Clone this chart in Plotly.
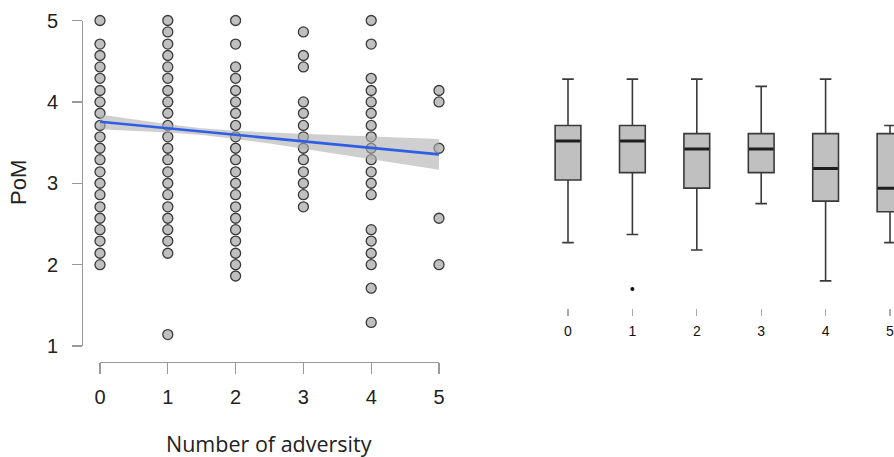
import plotly.graph_objects as go

# ---------------- data ----------------
adversity_levels = [0, 1, 2, 3, 4, 5]
pom_0 = [5.00, 4.71, 4.57, 4.43, 4.29, 4.14, 4.00, 3.86, 3.71, 3.57, 3.43, 3.29, 3.14, 3.00,
         2.86, 2.71, 2.57, 2.43, 2.29, 2.14, 2.00]
pom_1 = [5.00, 4.86, 4.71, 4.57, 4.43, 4.29, 4.14, 4.00, 3.86, 3.71, 3.57, 3.43, 3.29, 3.14,
         3.00, 2.86, 2.71, 2.57, 2.43, 2.29, 2.14, 1.14]
pom_2 = [5.00, 4.71, 4.43, 4.29, 4.14, 4.00, 3.86, 3.71, 3.57, 3.43, 3.29, 3.14, 3.00, 2.86,
         2.71, 2.57, 2.43, 2.29, 2.14, 2.00, 1.86]
pom_3 = [4.86, 4.57, 4.43, 4.00, 3.86, 3.71, 3.57, 3.43, 3.29, 3.14, 3.00, 2.86, 2.71]
pom_4 = [5.00, 4.71, 4.29, 4.14, 4.00, 3.86, 3.71, 3.57, 3.43, 3.29, 3.14, 3.00, 2.86, 2.43,
         2.29, 2.14, 2.00, 1.71, 1.29]
pom_5 = [4.14, 4.00, 3.43, 2.57, 2.00]

# fitted regression line and 95% CI band
fit_x = [0, 0.5, 1, 1.5, 2, 2.5, 3, 3.5, 4, 4.5, 5]
fit_y = [3.755, 3.715, 3.675, 3.635, 3.595, 3.555, 3.515, 3.475, 3.435, 3.395, 3.355]
fit_upper = [3.845, 3.783, 3.725, 3.677, 3.645, 3.623, 3.605, 3.589, 3.574, 3.559, 3.545]
fit_lower = [3.665, 3.647, 3.625, 3.593, 3.545, 3.487, 3.425, 3.361, 3.296, 3.231, 3.165]

# boxplot statistics (right panel)
box_upper = [4.28, 4.28, 4.28, 4.19, 4.28, 3.71]
box_q3 = [3.71, 3.71, 3.61, 3.61, 3.61, 3.61]
box_median = [3.52, 3.52, 3.42, 3.42, 3.18, 2.94]
box_q1 = [3.04, 3.13, 2.94, 3.13, 2.78, 2.65]
box_lower = [2.27, 2.37, 2.18, 2.75, 1.80, 2.27]
outlier_x = [1]
outlier_y = [1.70]

x_tick_labels = ["0", "1", "2", "3", "4", "5"]
y_ticks = [1, 2, 3, 4, 5]

# ---------------- figure ----------------
W, H = 894, 457
OFF = 0  # body margin removed by post_script


def fx(px):
    return (px - OFF) / W


def fy(py):
    return 1 - (py - OFF) / H


fig = go.Figure()

groups = [pom_0, pom_1, pom_2, pom_3, pom_4, pom_5]
sx, sy = [], []
for lvl, vals in zip(adversity_levels, groups):
    sx += [lvl] * len(vals)
    sy += vals

fig.add_trace(go.Scatter(
    x=sx, y=sy, mode="markers", xaxis="x", yaxis="y",
    marker=dict(size=10, color="#c0c0c0", line=dict(color="#3a3a3a", width=1.3)),
    cliponaxis=False, showlegend=False, hoverinfo="skip"))

fig.add_trace(go.Scatter(
    x=fit_x, y=fit_lower, mode="lines", line=dict(width=0), xaxis="x", yaxis="y",
    showlegend=False, hoverinfo="skip"))
fig.add_trace(go.Scatter(
    x=fit_x, y=fit_upper, mode="lines", line=dict(width=0), fill="tonexty",
    fillcolor="rgba(175,175,175,0.6)", xaxis="x", yaxis="y",
    showlegend=False, hoverinfo="skip"))
fig.add_trace(go.Scatter(
    x=fit_x, y=fit_y, mode="lines", line=dict(color="#2f5ee6", width=2.6),
    xaxis="x", yaxis="y", showlegend=False, hoverinfo="skip"))

# right panel boxes
for i, lvl in enumerate(adversity_levels):
    fig.add_trace(go.Box(
        x=[lvl], q1=[box_q1[i]], median=[box_median[i]], q3=[box_q3[i]],
        lowerfence=[box_lower[i]], upperfence=[box_upper[i]],
        width=0.4, whiskerwidth=0.45, fillcolor="#c0c0c0",
        line=dict(color="#3a3a3a", width=1.6), xaxis="x2", yaxis="y2",
        boxpoints=False, showlegend=False, hoverinfo="skip"))
    fig.add_trace(go.Scatter(
        x=[lvl - 0.19, lvl + 0.19], y=[box_median[i], box_median[i]], mode="lines",
        line=dict(color="#1e1e1e", width=3), xaxis="x2", yaxis="y2",
        showlegend=False, hoverinfo="skip"))

fig.add_trace(go.Scatter(
    x=outlier_x, y=outlier_y, mode="markers", marker=dict(size=4, color="#111"),
    xaxis="x2", yaxis="y2", showlegend=False, hoverinfo="skip"))

tick_font = dict(family="Liberation Sans, Arial, sans-serif", size=20, color="#222")

# right panel: 0 -> px 568, 5 -> px 890 (64.4 px per unit), clipped at window edge
r_left_px = 568 - 0.5 * 64.4
r_right_px = OFF + W
r_hi = 5 + (r_right_px - 890) / 64.4

fig.update_layout(
    width=W, height=H, margin=dict(l=0, r=0, t=0, b=0, autoexpand=False),
    paper_bgcolor="white", plot_bgcolor="rgba(0,0,0,0)",
    xaxis=dict(domain=[fx(100), fx(439)], range=[0, 5], anchor="free", automargin=False,
               position=fy(362), showline=True, linecolor="#999", linewidth=1.3,
               ticks="outside", ticklen=11, tickcolor="#999", tickwidth=1.3,
               tickvals=adversity_levels, ticktext=x_tick_labels, tickfont=tick_font,
               showgrid=False, zeroline=False, ticklabelstandoff=6),
    yaxis=dict(domain=[fy(346), fy(20.5)], range=[1, 5], anchor="free",
               automargin=False,
               position=fx(82), showline=True, linecolor="#999", linewidth=1.3,
               ticks="outside", ticklen=10, tickcolor="#999", tickwidth=1.3,
               tickvals=y_ticks, tickfont=tick_font, showgrid=False, zeroline=False,
               ticklabelstandoff=10),
    xaxis2=dict(domain=[fx(r_left_px), 1.0], range=[-0.5, r_hi], anchor="free",
                automargin=False, ticklabeloverflow="allow",
                position=fy(308), showline=False, ticks="outside", ticklen=7,
                tickcolor="#aaa", tickwidth=1.2, tickvals=adversity_levels,
                ticktext=x_tick_labels,
                tickfont=dict(family="Liberation Sans, Arial, sans-serif", size=14,
                              color="#111"),
                showgrid=False, zeroline=False, ticklabelstandoff=3),
    yaxis2=dict(domain=[fy(346), fy(20.5)], range=[1, 5], anchor="x2",
                automargin=False,
                visible=False, showgrid=False, zeroline=False),
    annotations=[
        dict(text="PoM", x=fx(19), y=fy(183), xref="paper", yref="paper",
             textangle=-90, showarrow=False, xanchor="center", yanchor="middle",
             font=dict(family="Liberation Sans, Arial, sans-serif", size=22, color="#222")),
        dict(text="Number of adversity", x=fx(269), y=fy(443), xref="paper",
             yref="paper", showarrow=False, xanchor="center", yanchor="middle",
             font=dict(family="Open Sans, sans-serif", size=21.5, color="#222")),
    ],
)

fig.write_html(
    "out.html",
    config={"displayModeBar": False, "staticPlot": True},
    post_script="document.body.style.margin='0';document.body.style.overflow='hidden';",
)
